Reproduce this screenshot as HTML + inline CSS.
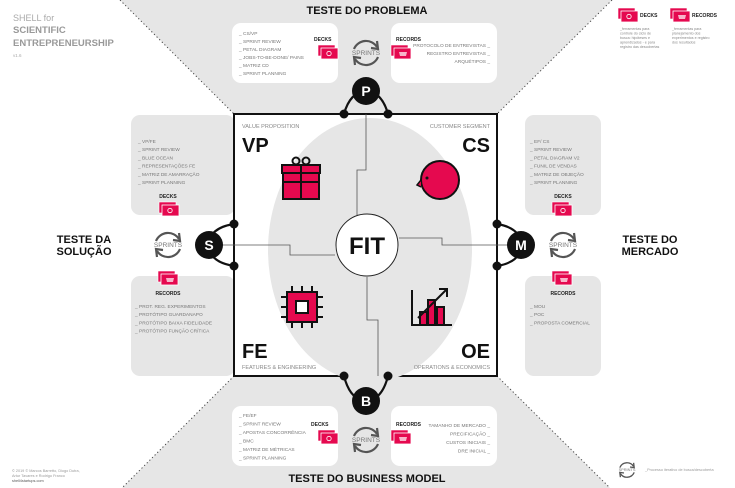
<!DOCTYPE html>
<html><head><meta charset="utf-8"><style>
html,body{margin:0;padding:0;background:#fff}
svg{display:block}
text{font-family:"Liberation Sans",sans-serif}
.sm{font-size:4.8px;fill:#777}
.hd{font-size:11px;font-weight:bold;fill:#111}
.lb{font-size:5px;font-weight:bold;fill:#222}
</style></head><body>
<svg width="735" height="488" viewBox="0 0 735 488" xmlns="http://www.w3.org/2000/svg">
<defs>
<g id="deck"><rect x="0" y="0" width="17" height="11" fill="#e5094f" stroke="#fff" stroke-width="0.6"/><rect x="3" y="3" width="17" height="11" fill="#e5094f" stroke="#fff" stroke-width="0.8"/><circle cx="11" cy="8.5" r="2.2" fill="none" stroke="#fff" stroke-width="0.8"/></g>
<g id="rec"><rect x="0" y="0" width="17" height="11" fill="#e5094f" stroke="#fff" stroke-width="0.6"/><rect x="3" y="3" width="17" height="11" fill="#e5094f" stroke="#fff" stroke-width="0.8"/><path d="M8 7h8l-1 4h-6z" fill="#fff" opacity="0.7"/></g>
<g id="spr"><path d="M-12 -4 A13 13 0 0 1 11 -6" fill="none" stroke="#555" stroke-width="2.2"/><path d="M11 -12 L12 -4 L5 -5" fill="none" stroke="#555" stroke-width="2.2"/><path d="M12 4 A13 13 0 0 1 -11 6" fill="none" stroke="#555" stroke-width="2.2"/><path d="M-11 12 L-12 4 L-5 5" fill="none" stroke="#555" stroke-width="2.2"/><text x="0" y="2" text-anchor="middle" font-size="6.5" fill="#777">SPRINTS</text></g>
</defs>
<polygon points="120,0 612,0 497,114 234,114" fill="#e6e6e6"/>
<polygon points="234,376 497,376 610,488 122,488" fill="#e6e6e6"/>
<line x1="120" y1="0" x2="234" y2="114" stroke="#444" stroke-width="1" stroke-dasharray="1.2,2.5"/>
<line x1="612" y1="0" x2="497" y2="114" stroke="#444" stroke-width="1" stroke-dasharray="1.2,2.5"/>
<line x1="234" y1="376" x2="122" y2="488" stroke="#444" stroke-width="1" stroke-dasharray="1.2,2.5"/>
<line x1="497" y1="376" x2="610" y2="488" stroke="#444" stroke-width="1" stroke-dasharray="1.2,2.5"/>
<text x="13" y="21" font-size="9" fill="#aaa">SHELL for</text>
<text x="13" y="33" font-size="9.5" font-weight="bold" fill="#999">SCIENTIFIC</text>
<text x="13" y="46" font-size="9.5" font-weight="bold" fill="#999">ENTREPRENEURSHIP</text>
<text x="13" y="57" font-size="4.5" fill="#aaa">v1.6</text>
<use href="#deck" x="618" y="8"/><text x="640" y="17" class="lb" font-size="4">DECKS</text>
<text x="620" y="30" font-size="3.6" fill="#888"><tspan x="620">_ferramentas para</tspan><tspan x="620" dy="4.5">controle do ciclo de</tspan><tspan x="620" dy="4.5">busca: hipóteses e</tspan><tspan x="620" dy="4.5">aprendizados - e para</tspan><tspan x="620" dy="4.5">registro das descobertas</tspan></text>
<use href="#rec" x="670" y="8"/><text x="692" y="17" class="lb" font-size="4">RECORDS</text>
<text x="672" y="30" font-size="3.6" fill="#888"><tspan x="672">_ferramentas para</tspan><tspan x="672" dy="4.5">planejamento dos</tspan><tspan x="672" dy="4.5">experimentos e registro</tspan><tspan x="672" dy="4.5">dos resultados</tspan></text>
<text x="367" y="14" text-anchor="middle" class="hd">TESTE DO PROBLEMA</text>
<rect x="232" y="23" width="106" height="60" rx="9" fill="#fff"/>
<rect x="391" y="23" width="106" height="60" rx="9" fill="#fff"/>
<text class="sm"><tspan x="239" y="35">_ CS/VP</tspan><tspan x="239" dy="8">_ SPRINT REVIEW</tspan><tspan x="239" dy="8">_ PETAL DIAGRAM</tspan><tspan x="239" dy="8">_ JOBS-TO-BE-DONE/ PAINS</tspan><tspan x="239" dy="8">_ MATRIZ CD</tspan><tspan x="239" dy="8">_ SPRINT PLANNING</tspan></text>
<text x="314" y="41" class="lb">DECKS</text><use href="#deck" x="318" y="45"/>
<text x="396" y="41" class="lb">RECORDS</text><use href="#rec" x="391" y="45"/>
<text class="sm" text-anchor="end"><tspan x="490" y="47">PROTOCOLO DE ENTREVISTAS _</tspan><tspan x="490" dy="8">REGISTRO ENTREVISTAS _</tspan><tspan x="490" dy="8">ARQUÉTIPOS _</tspan></text>
<use href="#spr" x="366" y="53"/>
<text x="367" y="482" text-anchor="middle" class="hd">TESTE DO BUSINESS MODEL</text>
<rect x="232" y="406" width="106" height="60" rx="9" fill="#fff"/>
<rect x="391" y="406" width="106" height="60" rx="9" fill="#fff"/>
<text class="sm"><tspan x="239" y="417">_ FE/EF</tspan><tspan x="239" dy="8.5">_ SPRINT REVIEW</tspan><tspan x="239" dy="8.5">_ APOSTAS CONCORRÊNCIA</tspan><tspan x="239" dy="8.5">_ BMC</tspan><tspan x="239" dy="8.5">_ MATRIZ DE MÉTRICAS</tspan><tspan x="239" dy="8.5">_ SPRINT PLANNING</tspan></text>
<text x="311" y="426" class="lb">DECKS</text><use href="#deck" x="318" y="430"/>
<text x="396" y="426" class="lb">RECORDS</text><use href="#rec" x="391" y="430"/>
<text class="sm" text-anchor="end"><tspan x="490" y="427">TAMANHO DE MERCADO _</tspan><tspan x="490" dy="8.5">PRECIFICAÇÃO _</tspan><tspan x="490" dy="8.5">CUSTOS INICIAIS _</tspan><tspan x="490" dy="8.5">DRE INICIAL _</tspan></text>
<use href="#spr" x="366" y="440"/>
<rect x="131" y="115" width="104" height="100" rx="9" fill="#e6e6e6"/>
<rect x="131" y="276" width="104" height="100" rx="9" fill="#e6e6e6"/>
<text class="sm"><tspan x="138" y="143">_ VP/FE</tspan><tspan x="138" dy="8.2">_ SPRINT REVIEW</tspan><tspan x="138" dy="8.2">_ BLUE OCEAN</tspan><tspan x="138" dy="8.2">_ REPRESENTAÇÕES FE</tspan><tspan x="138" dy="8.2">_ MATRIZ DE AMARRAÇÃO</tspan><tspan x="138" dy="8.2">_ SPRINT PLANNING</tspan></text>
<text x="168" y="198" text-anchor="middle" class="lb">DECKS</text><use href="#deck" x="159" y="202"/>
<use href="#rec" x="158" y="271"/><text x="168" y="295" text-anchor="middle" class="lb">RECORDS</text>
<text class="sm"><tspan x="135" y="308">_ PROT. REG. EXPERIMENTOS</tspan><tspan x="135" dy="8.2">_ PROTÓTIPO GUARDANAPO</tspan><tspan x="135" dy="8.2">_ PROTÓTIPO BAIXA FIDELIDADE</tspan><tspan x="135" dy="8.2">_ PROTÓTIPO FUNÇÃO CRÍTICA</tspan></text>
<use href="#spr" x="168" y="245"/>
<text x="84" y="243" text-anchor="middle" class="hd" font-size="10">TESTE DA</text>
<text x="84" y="255" text-anchor="middle" class="hd" font-size="10">SOLUÇÃO</text>
<rect x="525" y="115" width="76" height="100" rx="9" fill="#e6e6e6"/>
<rect x="525" y="276" width="76" height="100" rx="9" fill="#e6e6e6"/>
<text class="sm"><tspan x="530" y="143">_ EF/ CS</tspan><tspan x="530" dy="8.2">_ SPRINT REVIEW</tspan><tspan x="530" dy="8.2">_ PETAL DIAGRAM V2</tspan><tspan x="530" dy="8.2">_ FUNIL DE VENDAS</tspan><tspan x="530" dy="8.2">_ MATRIZ DE OBJEÇÃO</tspan><tspan x="530" dy="8.2">_ SPRINT PLANNING</tspan></text>
<text x="563" y="198" text-anchor="middle" class="lb">DECKS</text><use href="#deck" x="552" y="202"/>
<use href="#rec" x="552" y="271"/><text x="563" y="295" text-anchor="middle" class="lb">RECORDS</text>
<text class="sm"><tspan x="530" y="308">_ MOU</tspan><tspan x="530" dy="8.2">_ POC</tspan><tspan x="530" dy="8.2">_ PROPOSTA COMERCIAL</tspan></text>
<use href="#spr" x="563" y="245"/>
<text x="650" y="243" text-anchor="middle" class="hd" font-size="10">TESTE DO</text>
<text x="650" y="255" text-anchor="middle" class="hd" font-size="10">MERCADO</text>
<text font-size="3.8" fill="#999"><tspan x="12" y="472">© 2019 © Marcos Barretto, Diogo Dutra,</tspan><tspan x="12" dy="5">Artur Tavares e Rodrigo Franco</tspan><tspan x="12" dy="5" fill="#555">shell4startups.com</tspan></text>
<g transform="translate(627,470) scale(0.6)"><use href="#spr"/></g>
<text x="645" y="471" font-size="3.8" fill="#999">_Processo iterativo de busca/descoberta</text>
<rect x="234" y="114" width="263" height="262" fill="#fff" stroke="#111" stroke-width="2"/>
<ellipse cx="370" cy="250" rx="102" ry="132" fill="#e6e6e6"/>
<path d="M366 114 V170 H357 V215 M234 245 H290 V255 H335 M367 277 V320 H378 V376 M399 238 H442 V245 H497" fill="none" stroke="#555" stroke-width="0.8"/>
<line x1="209" y1="245" x2="234" y2="245" stroke="#555" stroke-width="0.8"/>
<line x1="497" y1="245" x2="521" y2="245" stroke="#555" stroke-width="0.8"/>
<circle cx="367" cy="245" r="31" fill="#fff" stroke="#222" stroke-width="1"/>
<text x="367" y="254" text-anchor="middle" font-size="24" font-weight="bold" fill="#111">FIT</text>
<text x="242" y="128" font-size="5.5" fill="#888">VALUE PROPOSITION</text>
<text x="242" y="152" font-size="20" font-weight="bold" fill="#111">VP</text>
<text x="490" y="128" text-anchor="end" font-size="5.5" fill="#888">CUSTOMER SEGMENT</text>
<text x="490" y="152" text-anchor="end" font-size="20" font-weight="bold" fill="#111">CS</text>
<text x="242" y="358" font-size="20" font-weight="bold" fill="#111">FE</text>
<text x="242" y="369" font-size="5.5" fill="#888">FEATURES &amp; ENGINEERING</text>
<text x="490" y="358" text-anchor="end" font-size="20" font-weight="bold" fill="#111">OE</text>
<text x="490" y="369" text-anchor="end" font-size="5.5" fill="#888">OPERATIONS &amp; ECONOMICS</text>
<g stroke="#111" stroke-width="2" fill="#e5094f">
<rect x="283" y="172" width="36" height="27"/><rect x="282" y="165" width="38" height="8"/>
<line x1="301" y1="165" x2="301" y2="199"/><line x1="283" y1="182" x2="319" y2="182"/>
<circle cx="296" cy="161" r="3.5" fill="none"/><circle cx="306" cy="161" r="3.5" fill="none"/>
<circle cx="440" cy="180" r="19"/>
<rect x="287" y="292" width="30" height="30"/><rect x="296" y="301" width="12" height="12" fill="#fff"/>
<path d="M292 286v6M302 286v6M312 286v6M292 322v6M302 322v6M312 322v6M281 297h6M281 307h6M281 317h6M317 297h6M317 307h6M317 317h6" fill="none"/>
<path d="M412 290V325H452" fill="none"/>
<rect x="420" y="312" width="7" height="13"/><rect x="428" y="300" width="7" height="25"/><rect x="437" y="307" width="7" height="18"/>
<path d="M418 318L447 289M439 289H447V297" fill="none"/>
</g>
<path d="M421 180l-4 5 4 2" fill="#e5094f" stroke="#111" stroke-width="1.5"/><circle cx="427" cy="178" r="1.5" fill="#111"/>
<g fill="none" stroke="#111" stroke-width="2.2">
<path d="M344 114 Q350 92 366 91 Q382 92 388 114"/>
<path d="M344 376 Q350 400 366 401 Q382 400 388 376"/>
<path d="M234 224 Q209 228 209 245 Q209 262 234 266"/>
<path d="M497 224 Q521 228 521 245 Q521 262 497 266"/>
</g>
<g fill="#111">
<circle cx="344" cy="114" r="4.5"/><circle cx="388" cy="114" r="4.5"/>
<circle cx="344" cy="376" r="4.5"/><circle cx="388" cy="376" r="4.5"/>
<circle cx="234" cy="224" r="4.5"/><circle cx="234" cy="266" r="4.5"/>
<circle cx="497" cy="224" r="4.5"/><circle cx="497" cy="266" r="4.5"/>
<circle cx="366" cy="91" r="14"/><circle cx="366" cy="401" r="14"/>
<circle cx="209" cy="245" r="14"/><circle cx="521" cy="245" r="14"/>
</g>
<g font-size="14" font-weight="bold" fill="#fff" text-anchor="middle">
<text x="366" y="96">P</text><text x="366" y="406">B</text><text x="209" y="250">S</text><text x="521" y="250">M</text>
</g>
</svg>
</body></html>
